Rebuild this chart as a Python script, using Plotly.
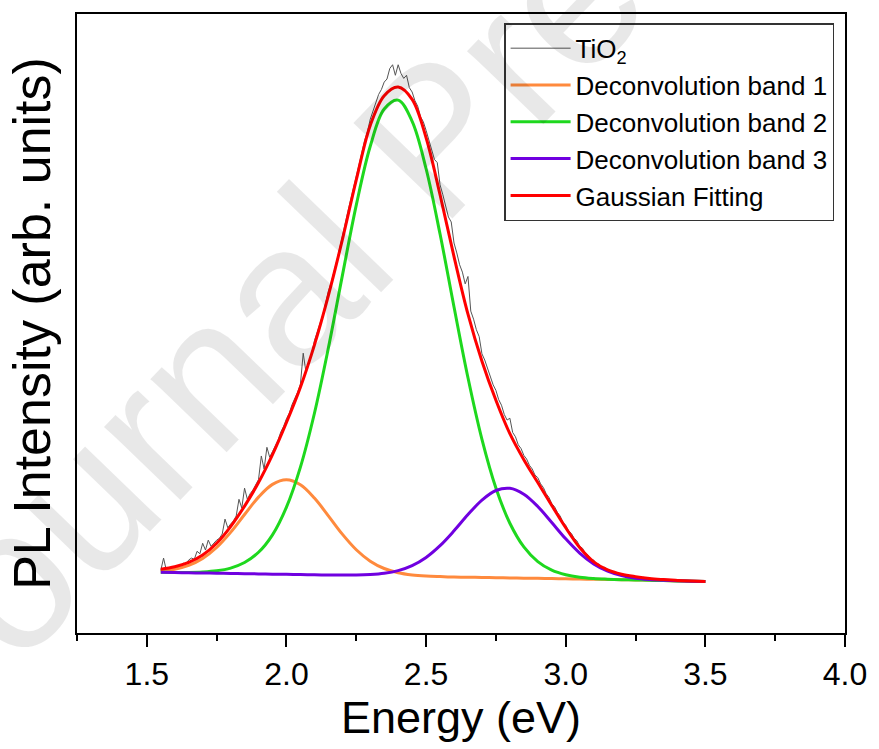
import numpy as np
import plotly.graph_objects as go

# ---------------- data ----------------
energy_fit = np.round(np.arange(1.55, 3.5001, 0.05), 2)

band1 = [100.3, 103.1, 109.2, 120.4, 138.1, 162.6, 191.4, 219.5, 240.1, 247.5,
         239.4, 218.0, 189.3, 159.7, 134.5, 116.1, 104.2, 97.4, 93.8, 92.0,
         91.1, 90.4, 90.1, 89.7, 89.4, 89.0, 88.6, 88.3, 87.9, 87.6,
         87.2, 86.8, 86.5, 86.1, 85.7, 85.2, 84.7, 84.2, 83.7, 83.2]

band2 = [98.1, 97.9, 97.9, 98.6, 100.5, 104.9, 113.8, 130.4, 158.6, 203.3,
         268.0, 354.6, 460.2, 576.9, 691.2, 786.3, 846.5, 860.9, 826.6, 750.0,
         644.5, 526.7, 412.3, 312.9, 234.4, 177.3, 139.0, 115.3, 101.4, 94.0,
         90.0, 88.0, 86.9, 86.1, 85.7, 85.2, 84.7, 84.2, 83.7, 83.2]

band3 = [98.0, 97.6, 97.3, 96.9, 96.6, 96.2, 95.8, 95.5, 95.1, 94.8,
         94.4, 94.0, 93.7, 93.6, 93.6, 94.4, 96.4, 100.8, 108.9, 122.1,
         141.1, 165.1, 191.3, 214.7, 230.2, 233.7, 224.3, 204.4, 178.5, 152.1,
         129.1, 111.6, 99.9, 92.7, 88.5, 86.4, 85.2, 84.4, 83.8, 83.2]

gauss_fit = [103, 107, 114, 126, 145, 172, 205, 243, 288, 340,
             397, 465, 545, 635, 732, 820, 868, 882, 862, 800,
             708, 608, 515, 439, 376, 322, 280, 243, 206, 170,
             138, 115, 102, 95, 91, 88, 86.3, 85.0, 84.0, 83.2]

energy_data = np.round(np.arange(1.55, 3.3001, 0.01), 2)

tio2 = [101, 121, 101, 102, 104, 103, 106, 108, 113, 111,
        118, 121, 119, 132, 128, 145, 134, 150, 140, 146,
        150, 153, 160, 184, 170, 176, 181, 189, 216, 202,
        234, 216, 225, 231, 240, 248, 286, 265, 300, 284,
        293, 303, 312, 325, 334, 346, 355, 369, 378, 389,
        402, 452, 421, 436, 450, 472, 486, 503, 514, 532,
        552, 566, 586, 601, 620, 642, 660, 681, 700, 718,
        740, 758, 776, 796, 810, 830, 843, 855, 870, 878,
        890, 895, 912, 918, 901, 918, 904, 896, 901, 881,
        874, 860, 851, 834, 826, 812, 797, 779, 765, 760,
        724, 708, 692, 672, 664, 630, 614, 595, 583, 564,
        576, 520, 507, 490, 479, 451, 441, 427, 416, 401,
        392, 377, 368, 353, 344, 347, 324, 317, 304, 298,
        287, 281, 271, 265, 255, 251, 241, 235, 225, 219,
        209, 204, 195, 189, 179, 174, 165, 161, 153, 149,
        140, 137, 129, 126, 119, 118, 112, 111, 106, 106,
        102, 101, 98, 98, 95, 96, 93, 94, 91, 92,
        90, 91, 89, 90, 88, 89]

names = ["TiO<sub>2</sub>", "Deconvolution band 1", "Deconvolution band 2",
         "Deconvolution band 3", "Gaussian Fitting"]
colors = ["#555555", "#FF8A3D", "#1ED81E", "#7000E0", "#FF0000"]

FONT = "Liberation Sans, Arial, sans-serif"

fig = go.Figure()
fig.add_trace(go.Scatter(x=energy_data, y=tio2, mode="lines", name=names[0],
                         line=dict(color=colors[0], width=1)))
for nm, col, ys in zip(names[1:4], colors[1:4], [band1, band2, band3]):
    fig.add_trace(go.Scatter(x=energy_fit, y=ys, mode="lines", name=nm,
                             line=dict(color=col, width=3, shape="spline", smoothing=1.0)))
fig.add_trace(go.Scatter(x=energy_fit, y=gauss_fit, mode="lines", name=names[4],
                         line=dict(color=colors[4], width=3, shape="spline", smoothing=1.0)))

# watermark
fig.add_annotation(text="Journal Pre-proof", xref="paper", yref="paper",
                   x=0.465, y=0.80, xanchor="center", yanchor="middle",
                   showarrow=False, textangle=-46,
                   font=dict(family=FONT, size=200, color="rgba(0,0,0,0.09)"))

fig.update_layout(
    width=879, height=749,
    margin=dict(l=77, r=28, t=12, b=116),
    paper_bgcolor="white", plot_bgcolor="white",
    font=dict(family=FONT, color="black"),
    showlegend=True,
    legend=dict(x=0.9858, y=0.985, xanchor="right", yanchor="top",
                bgcolor="rgba(255,255,255,0)", bordercolor="#333333", borderwidth=1.5,
                font=dict(family=FONT, size=26, color="black"),
                itemwidth=60, tracegroupgap=0),
    xaxis=dict(range=[1.25, 4.0], showgrid=False, zeroline=False,
               showline=True, linecolor="black", linewidth=2, mirror=True,
               ticks="outside", ticklen=12, tickwidth=1.5, tickcolor="black",
               tick0=1.5, dtick=0.5, tickformat=".1f",
               tickfont=dict(family=FONT, size=32),
               minor=dict(ticks="outside", ticklen=6, tickwidth=1.5, tickcolor="black",
                          tick0=1.25, dtick=0.25),
               title=dict(text="Energy (eV)", font=dict(family=FONT, size=45), standoff=8)),
    yaxis=dict(range=[0, 1000], showgrid=False, zeroline=False,
               showline=True, linecolor="black", linewidth=2, mirror=True,
               ticks="", showticklabels=False,
               title=dict(text="PL Intensity (arb. units)", font=dict(family=FONT, size=52),
                          standoff=8)),
)

fig.write_html("out.html")
